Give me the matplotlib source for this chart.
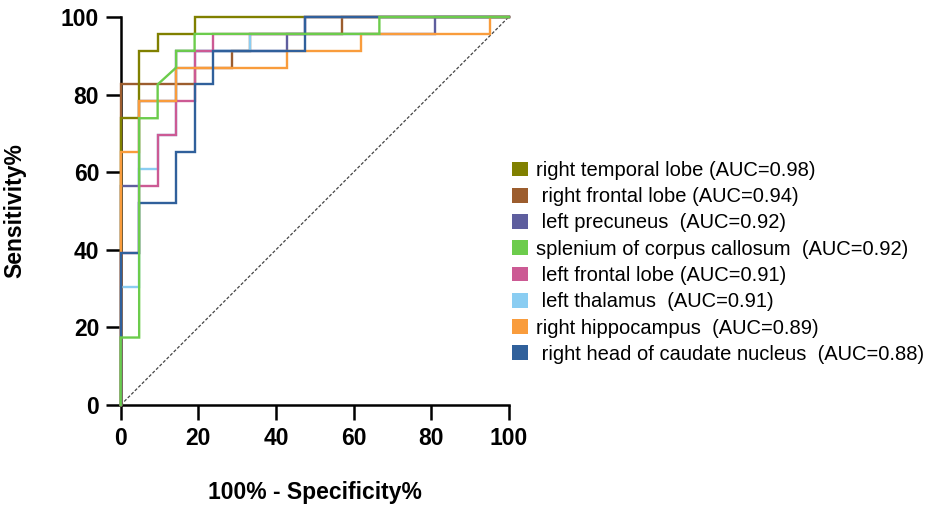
import matplotlib
matplotlib.use('Agg')
import matplotlib.pyplot as plt
from matplotlib.patches import Patch

plt.rcParams['font.family'] = ['Liberation Sans', 'DejaVu Sans']

# ROC curve vertices (100% - specificity %, sensitivity %)
temporal_fpr = [0, 0, 4.76, 4.76, 9.52, 9.52, 19.05, 19.05, 100]
temporal_tpr = [0, 73.91, 73.91, 91.30, 91.30, 95.65, 95.65, 100, 100]

frontal_r_fpr = [0, 0, 19.05, 19.05, 28.57, 28.57, 33.33, 33.33, 57.14, 57.14, 100]
frontal_r_tpr = [0, 82.61, 82.61, 86.96, 86.96, 91.30, 91.30, 95.65, 95.65, 100, 100]

precuneus_fpr = [0, 0, 4.76, 4.76, 14.29, 14.29, 42.86, 42.86, 80.95, 80.95, 100]
precuneus_tpr = [0, 56.52, 56.52, 78.26, 78.26, 91.30, 91.30, 95.65, 95.65, 100, 100]

splenium_fpr = [0, 0, 4.76, 4.76, 9.52, 9.52, 14.29, 14.29, 19.05, 19.05, 66.67, 66.67, 100]
splenium_tpr = [0, 17.39, 17.39, 73.91, 73.91, 82.61, 86.96, 91.30, 91.30, 95.65, 95.65, 100, 100]

frontal_l_fpr = [0, 0, 4.76, 4.76, 9.52, 9.52, 14.29, 14.29, 19.05, 19.05, 23.81, 23.81, 47.62, 47.62, 100]
frontal_l_tpr = [0, 39.13, 39.13, 56.52, 56.52, 69.57, 69.57, 78.26, 78.26, 91.30, 91.30, 95.65, 95.65, 100, 100]

thalamus_fpr = [0, 0, 4.76, 4.76, 9.52, 9.52, 14.29, 14.29, 19.05, 19.05, 33.33, 33.33, 47.62, 47.62, 100]
thalamus_tpr = [0, 30.43, 30.43, 60.87, 60.87, 69.57, 69.57, 86.96, 86.96, 91.30, 91.30, 95.65, 95.65, 100, 100]

hippo_fpr = [0, 0, 4.76, 4.76, 14.29, 14.29, 42.86, 42.86, 61.90, 61.90, 95.24, 95.24, 100]
hippo_tpr = [0, 65.22, 65.22, 78.26, 78.26, 86.96, 86.96, 91.30, 91.30, 95.65, 95.65, 100, 100]

caudate_fpr = [0, 0, 4.76, 4.76, 14.29, 14.29, 19.05, 19.05, 23.81, 23.81, 47.62, 47.62, 100]
caudate_tpr = [0, 39.13, 39.13, 52.17, 52.17, 65.22, 65.22, 82.61, 82.61, 91.30, 91.30, 100, 100]

labels = ['right temporal lobe (AUC=0.98)',
          ' right frontal lobe (AUC=0.94)',
          ' left precuneus  (AUC=0.92)',
          'splenium of corpus callosum  (AUC=0.92)',
          ' left frontal lobe (AUC=0.91)',
          ' left thalamus  (AUC=0.91)',
          'right hippocampus  (AUC=0.89)',
          ' right head of caudate nucleus  (AUC=0.88)']
colors = ['#808000', '#9c5d2e', '#5e5e9e', '#6ccc4c',
          '#cc5a94', '#8acdf2', '#f99c3c', '#30609b']
ticks = [0, 20, 40, 60, 80, 100]

fig = plt.figure(figsize=(9.35, 5.11), dpi=100)
ax = fig.add_axes([120.7 / 935, 1 - 405 / 511, 388 / 935, 388 / 511])

# diagonal reference line
ax.plot([0, 100], [0, 100], color='#444444', lw=0.9, ls=(0, (2.5, 1.5)), zorder=2)

# draw order chosen so the top curves match the reference overlaps
curves = [
    (precuneus_fpr, precuneus_tpr, 2),
    (frontal_r_fpr, frontal_r_tpr, 1),
    (thalamus_fpr, thalamus_tpr, 5),
    (temporal_fpr, temporal_tpr, 0),
    (frontal_l_fpr, frontal_l_tpr, 4),
    (hippo_fpr, hippo_tpr, 6),
    (caudate_fpr, caudate_tpr, 7),
    (splenium_fpr, splenium_tpr, 3),
]
for i, (fx, ty, c) in enumerate(curves):
    ax.plot(fx, ty, color=colors[c], lw=1.7, zorder=3 + i * 0.1,
            clip_on=False, solid_joinstyle='miter')

ax.set_xlim(0, 100)
ax.set_ylim(0, 100)
ax.set_xticks(ticks)
ax.set_yticks(ticks)
ax.set_xticklabels([str(t) for t in ticks], fontsize=16.5, fontweight='bold')
ax.set_yticklabels([str(t) for t in ticks], fontsize=16.5, fontweight='bold')
ax.tick_params(length=10.5, width=1.8, pad=5)
for s in ['top', 'right']:
    ax.spines[s].set_visible(False)
for s in ['left', 'bottom']:
    ax.spines[s].set_linewidth(1.8)

ax.set_xlabel('100% - Specificity%', fontsize=16.5, fontweight='bold')
ax.set_ylabel('Sensitivity%', fontsize=16.5, fontweight='bold')
ax.xaxis.set_label_coords(0.5, -0.195)
ax.yaxis.set_label_coords(-0.244, 0.5)

handles = [Patch(facecolor=c, edgecolor='none') for c in colors]
fig.legend(handles, labels, loc='upper left',
           bbox_to_anchor=(512 / 935, 1 - 161 / 511),
           frameon=False, fontsize=14.5, borderpad=0, borderaxespad=0,
           handlelength=0.8, handleheight=0.75, handletextpad=0.4,
           labelspacing=0.36)

fig.savefig('out.png', dpi=100)
